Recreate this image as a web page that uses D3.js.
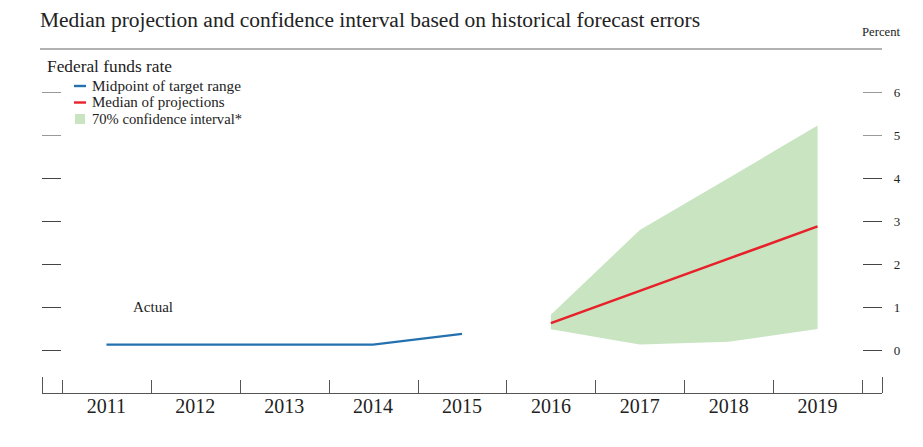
<!DOCTYPE html>
<html>
<head>
<meta charset="utf-8">
<script src="https://cdn.jsdelivr.net/npm/d3@7"></script>
<style>
  html, body { margin: 0; padding: 0; background: #fff; }
  svg text { font-family: "Liberation Serif", "Times New Roman", serif; fill: #222; }
</style>
</head>
<body>
<svg id="chart" width="923" height="447"></svg>
<script>
const years = [2011, 2012, 2013, 2014, 2015, 2016, 2017, 2018, 2019];
const actualYears = [2011, 2012, 2013, 2014, 2015];
const actualValues = [0.125, 0.125, 0.125, 0.125, 0.375];
const projYears = [2016, 2017, 2018, 2019];
const medianValues = [0.625, 1.375, 2.125, 2.875];
const ciLower = [0.48, 0.13, 0.19, 0.49];
const ciUpper = [0.82, 2.79, 4.0, 5.22];
const yTicks = [0, 1, 2, 3, 4, 5, 6];
const legendItems = [
  { label: "Midpoint of target range", type: "line", color: "#2471b0" },
  { label: "Median of projections", type: "line", color: "#e8202a" },
  { label: "70% confidence interval*", type: "rect", color: "#c8e4c0" }
];

const svg = d3.select("#chart");
const x = d3.scaleLinear().domain([2010.5, 2019.5]).range([62, 862]);
const y = d3.scaleLinear().domain([0, 6]).range([350, 92]);

function fitText(sel, w) {
  const l = sel.node().getComputedTextLength();
  if (Math.abs(l - w) > 2) sel.attr("textLength", w).attr("lengthAdjust", "spacingAndGlyphs");
  return sel;
}

// Title
fitText(svg.append("text").attr("x", 40).attr("y", 27)
  .style("font-size", "20px").text("Median projection and confidence interval based on historical forecast errors"), 660);

fitText(svg.append("text").attr("x", 862).attr("y", 36)
  .style("font-size", "12px").text("Percent"), 38);

svg.append("line").attr("x1", 40).attr("x2", 882).attr("y1", 49).attr("y2", 49)
  .attr("stroke", "#999").attr("stroke-width", 1.6);

// Y ticks left and right
const tickG = svg.append("g");
yTicks.forEach(t => {
  const yy = Math.round(y(t)) + 0.5;
  const col = t >= 5 ? "#999" : "#444";
  tickG.append("line").attr("x1", 42).attr("x2", 61).attr("y1", yy).attr("y2", yy)
    .attr("stroke", col).attr("stroke-width", 1);
  tickG.append("line").attr("x1", 863).attr("x2", 882).attr("y1", yy).attr("y2", yy)
    .attr("stroke", col).attr("stroke-width", 1);
  tickG.append("text").attr("x", 897).attr("y", yy + 4.5).attr("text-anchor", "middle")
    .style("font-size", "13px").text(t);
});

// X axis
const axisY = 393;
const xa = svg.append("g");
xa.append("line").attr("x1", 42).attr("x2", 882).attr("y1", axisY + 0.5).attr("y2", axisY + 0.5)
  .attr("stroke", "#555").attr("stroke-width", 1);
const bounds = d3.range(2010.5, 2020, 1);
bounds.forEach(b => {
  const xx = Math.round(x(b)) + 0.5;
  xa.append("line").attr("x1", xx).attr("x2", xx).attr("y1", 380).attr("y2", axisY)
    .attr("stroke", "#555").attr("stroke-width", 1);
});
[42, 882].forEach(xx => {
  xa.append("line").attr("x1", xx + 0.5).attr("x2", xx + 0.5).attr("y1", 377).attr("y2", axisY)
    .attr("stroke", "#555").attr("stroke-width", 1);
});
years.forEach(yr => {
  xa.append("text").attr("x", x(yr)).attr("y", 413).attr("text-anchor", "middle")
    .style("font-size", "20px").text(yr);
});

// Confidence band
const band = projYears.map((yr, i) => ({ yr, lo: ciLower[i], hi: ciUpper[i] }));
svg.append("path").datum(band)
  .attr("d", d3.area().x(d => x(d.yr)).y0(d => y(d.lo)).y1(d => y(d.hi)))
  .attr("fill", "#c8e4c0");

// Actual line
svg.append("path").datum(actualYears.map((yr, i) => [yr, actualValues[i]]))
  .attr("d", d3.line().x(d => x(d[0])).y(d => y(d[1])))
  .attr("fill", "none").attr("stroke", "#2471b0").attr("stroke-width", 2.2);

// Median line
svg.append("path").datum(projYears.map((yr, i) => [yr, medianValues[i]]))
  .attr("d", d3.line().x(d => x(d[0])).y(d => y(d[1])))
  .attr("fill", "none").attr("stroke", "#e8202a").attr("stroke-width", 2.6);

fitText(svg.append("text").attr("x", 133).attr("y", 312).style("font-size", "15px").text("Actual"), 40);

// Legend
fitText(svg.append("text").attr("x", 47).attr("y", 72).style("font-size", "17px").text("Federal funds rate"), 125);
const legendW = [149, 132, 150];
legendItems.forEach((it, i) => {
  const cy = 86 + i * 16.5;
  if (it.type === "line") {
    svg.append("line").attr("x1", 74).attr("x2", 86).attr("y1", cy).attr("y2", cy)
      .attr("stroke", it.color).attr("stroke-width", 2.4);
  } else {
    svg.append("rect").attr("x", 75).attr("y", cy - 5).attr("width", 10).attr("height", 10)
      .attr("fill", it.color);
  }
  fitText(svg.append("text").attr("x", 92).attr("y", cy + 4.5).style("font-size", "15px").text(it.label), legendW[i]);
});
</script>
</body>
</html>
